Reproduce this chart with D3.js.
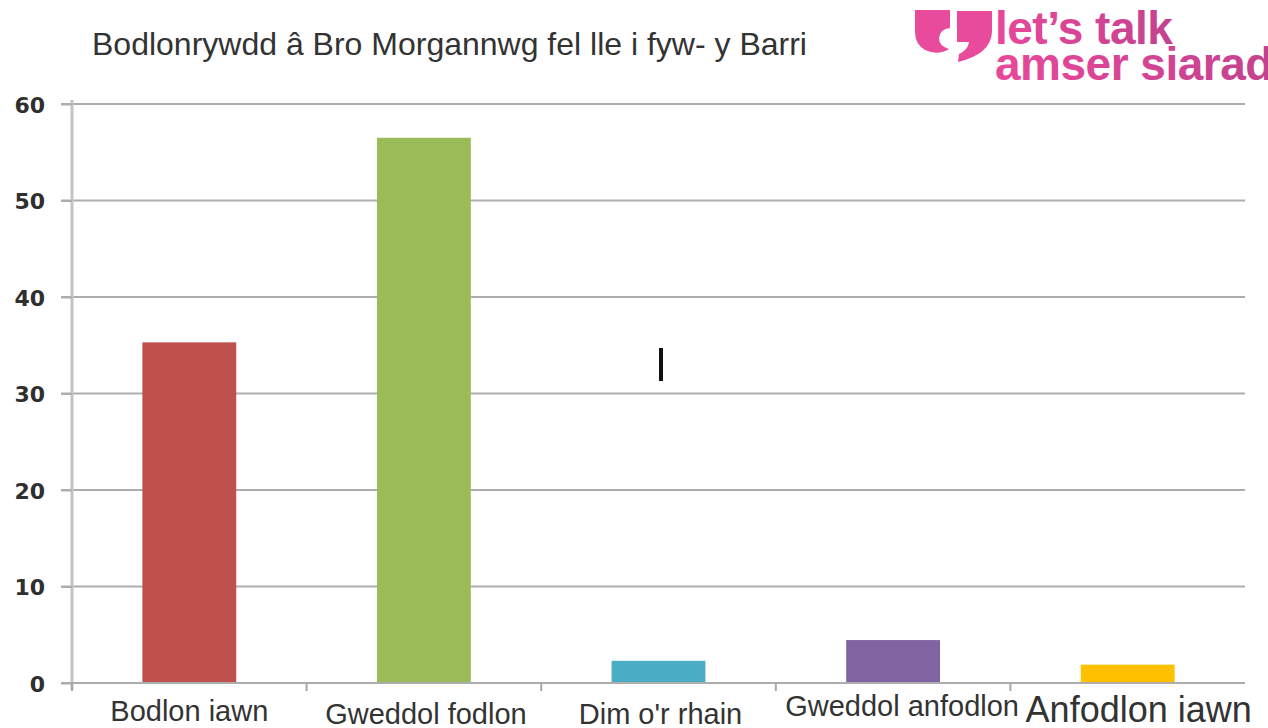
<!DOCTYPE html>
<html>
<head>
<meta charset="utf-8">
<script src="https://cdn.jsdelivr.net/npm/d3@7"></script>
<style>
  body { margin: 0; background: #fff; }
  svg { display: block; }
</style>
</head>
<body>
<div id="chart"></div>
<script>
const title = "Bodlonrywdd â Bro Morgannwg fel lle i fyw- y Barri"
const categories = ["Bodlon iawn", "Gweddol fodlon", "Dim o'r rhain", "Gweddol anfodlon", "Anfodlon iawn"]
const values = [35.3, 56.5, 2.3, 4.45, 1.9]
const barColors = ["#c0504d", "#9bbb59", "#4bacc6", "#8064a2", "#ffc000"]
const yTicks = [0, 10, 20, 30, 40, 50, 60]
const logoLines = ["let\u2019s talk", "amser siarad"]

// the x labels in the source are pasted in at slightly different sizes
const labelSize = [29, 29, 29, 29, 36]
const labelShift = [38, 41, 41, 33, 39]
const labelNudge = [0, 2, 2, 9, 11]

const width = 1268
const height = 728
const plotLeft = 72, plotRight = 1245, plotTop = 104, baseline = 683

const svg = d3.select("#chart").append("svg")
    .attr("width", width)
    .attr("height", height)

const x = d3.scaleBand()
    .domain(categories)
    .range([plotLeft, plotRight])
    .paddingInner(0.6)
    .paddingOuter(0.3)

const y = d3.scaleLinear()
    .domain([0, 60])
    .range([baseline, plotTop])

// gridlines
svg.append("g")
    .selectAll("line")
    .data(yTicks.filter(d => d > 0))
    .join("line")
    .attr("x1", plotLeft - 11)
    .attr("x2", plotRight)
    .attr("y1", d => y(d))
    .attr("y2", d => y(d))
    .attr("stroke", "#adadad")
    .attr("stroke-width", 2)

// y axis
const yAxis = svg.append("g")
    .attr("transform", `translate(${plotLeft},0)`)
    .call(d3.axisLeft(y).tickValues(yTicks).tickSize(11).tickPadding(16))
yAxis.select(".domain")
    .attr("d", `M0,${y(60) - 4}V${baseline + 7}`)
    .attr("stroke", "#c4c4c4")
    .attr("stroke-width", 3)
yAxis.selectAll(".tick line").attr("stroke", "#adadad").attr("stroke-width", 2)
yAxis.selectAll(".tick text")
    .attr("fill", "#2f2f2f")
    .style("font-family", "'DejaVu Sans', Verdana, sans-serif")
    .style("font-weight", "bold")
    .style("font-size", "22px")
    .attr("dy", "0.38em")

// bars
svg.append("g")
    .selectAll("rect")
    .data(values)
    .join("rect")
    .attr("x", (d, i) => x(categories[i]))
    .attr("width", x.bandwidth())
    .attr("y", d => y(d))
    .attr("height", d => y(0) - y(d))
    .attr("fill", (d, i) => barColors[i])

// x axis line and category separators
svg.append("line")
    .attr("x1", plotLeft - 11).attr("x2", plotRight)
    .attr("y1", baseline).attr("y2", baseline)
    .attr("stroke", "#adadad").attr("stroke-width", 2)

svg.append("g")
    .selectAll("line")
    .data(d3.range(categories.length))
    .join("line")
    .attr("x1", i => plotLeft + i * x.step())
    .attr("x2", i => plotLeft + i * x.step())
    .attr("y1", baseline)
    .attr("y2", baseline + 8)
    .attr("stroke", "#a8a8a8")
    .attr("stroke-width", 2)

svg.append("g")
    .selectAll("text")
    .data(categories)
    .join("text")
    .attr("x", (d, i) => x(d) + x.bandwidth() / 2 + labelNudge[i])
    .attr("y", (d, i) => baseline + labelShift[i])
    .attr("text-anchor", "middle")
    .attr("fill", "#333")
    .style("font-family", "'Liberation Sans', Arial, sans-serif")
    .style("font-size", (d, i) => labelSize[i] + "px")
    .text(d => d)

// title
svg.append("text")
    .attr("x", 92)
    .attr("y", 55)
    .attr("fill", "#333")
    .style("font-family", "'Liberation Sans', Arial, sans-serif")
    .style("font-size", "32px")
    .text(title)

// stray cursor mark in the source image
svg.append("line")
    .attr("x1", 661).attr("x2", 661)
    .attr("y1", 348).attr("y2", 381)
    .attr("stroke", "#111").attr("stroke-width", 4)

// logo
const logo = svg.append("g")
const grad = svg.append("defs").append("linearGradient")
    .attr("id", "pink").attr("x1", "0%").attr("x2", "100%")
grad.append("stop").attr("offset", "0%").attr("stop-color", "#e8489a")
grad.append("stop").attr("offset", "100%").attr("stop-color", "#c2428f")

logo.append("path")
    .attr("d", "M915,10H950V28Q940,29 939,38Q939,46 949,49Q938,56 925,50Q915,44 915,32Z")
    .attr("fill", "#e94b9c")
logo.append("path")
    .attr("d", "M957,11H992V32Q991,54 958,62L959,54Q968,50 969,42H957Z")
    .attr("fill", "#e94b9c")

logo.selectAll("text")
    .data(logoLines)
    .join("text")
    .attr("x", 995)
    .attr("y", (d, i) => 44 + i * 36)
    .attr("fill", "url(#pink)")
    .style("font-family", "'Liberation Sans', Arial, sans-serif")
    .style("font-weight", "bold")
    .style("font-size", "46px")
    .style("letter-spacing", "-0.5px")
    .text(d => d)
</script>
</body>
</html>
